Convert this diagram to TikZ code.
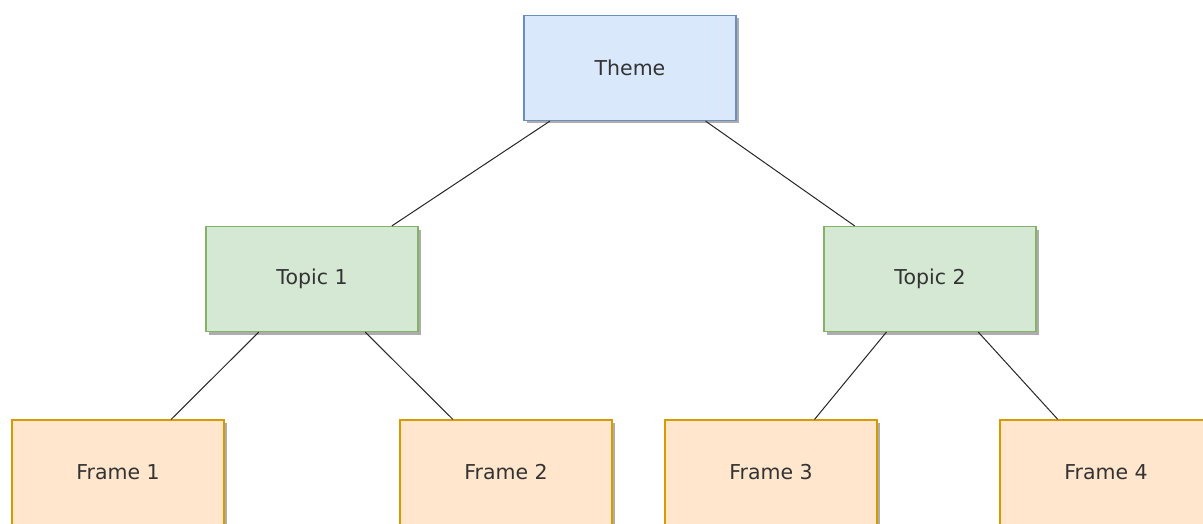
\documentclass[tikz,border=0pt]{standalone}
\usepackage{fontspec}
\setmainfont{DejaVu Sans}
\usetikzlibrary{shadows}
\begin{document}
\begin{tikzpicture}[x=1pt,y=-1pt,
  box/.style={draw, line width=1.2pt, minimum width=212pt, minimum height=105pt,
    inner sep=0pt, font=\fontsize{20.5}{24}\selectfont, text=black!80,
    drop shadow={shadow xshift=3pt, shadow yshift=-3pt, fill=black!40, opacity=0.8}},
  themebox/.style={box, fill={rgb,255:red,218;green,232;blue,252}, draw={rgb,255:red,108;green,142;blue,191}},
  topicbox/.style={box, fill={rgb,255:red,213;green,232;blue,212}, draw={rgb,255:red,130;green,179;blue,102}},
  framebox/.style={box, fill={rgb,255:red,255;green,230;blue,204}, draw={rgb,255:red,215;green,155;blue,0}},
  link/.style={draw=black!85, line width=1pt}]
\useasboundingbox (0,0) rectangle (1203,524);
\clip (0,0) rectangle (1203,524);
% tree levels
\node[themebox] (theme) at (630,68) {Theme};
\node[topicbox] (t1) at (312,279) {Topic 1};
\node[topicbox] (t2) at (930,279) {Topic 2};
\node[framebox] (f1) at (118,472.5) {Frame 1};
\node[framebox] (f2) at (506,472.5) {Frame 2};
\node[framebox] (f3) at (771,472.5) {Frame 3};
\node[framebox] (f4) at (1106,472.5) {Frame 4};
% connectors
\draw[link] (theme) -- (t1);
\draw[link] (theme) -- (t2);
\draw[link] (t1) -- (f1);
\draw[link] (t1) -- (f2);
\draw[link] (t2) -- (f3);
\draw[link] (t2) -- (f4);
\end{tikzpicture}
\end{document}
